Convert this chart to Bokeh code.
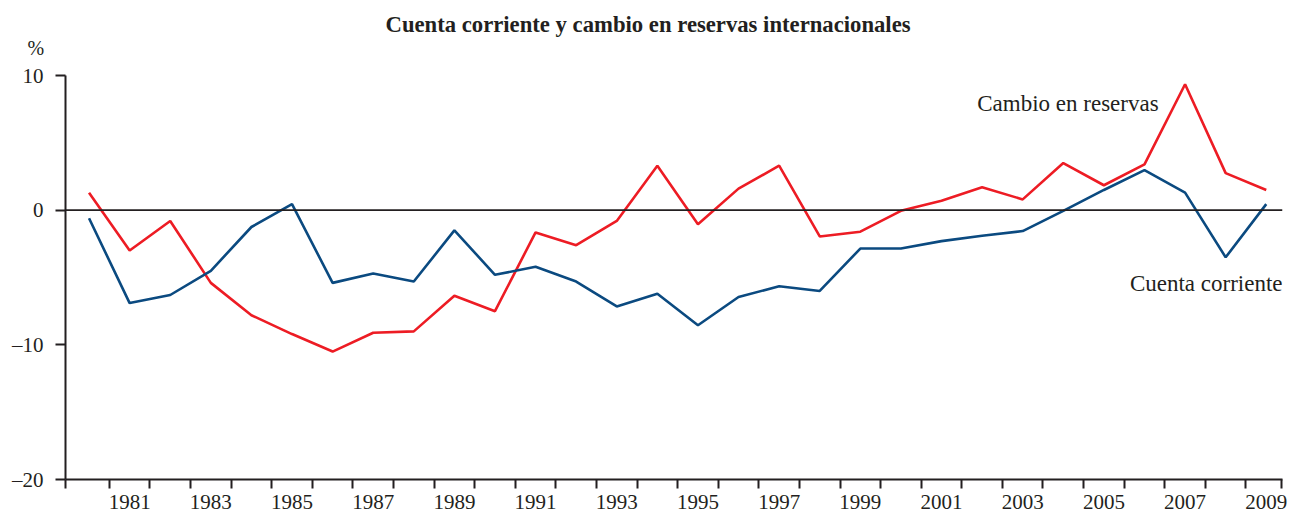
from bokeh.plotting import figure
from bokeh.models import FixedTicker, Span, Label, Range1d, Title
from bokeh.embed import file_html
from bokeh.resources import INLINE

# ---- data ----
years = list(range(1980, 2010))
cuenta_corriente = [-0.6, -6.9, -6.3, -4.5, -1.25, 0.45, -5.4, -4.7, -5.3, -1.5,
                    -4.8, -4.2, -5.3, -7.15, -6.2, -8.55, -6.45, -5.65, -6.0, -2.85,
                    -2.85, -2.3, -1.9, -1.55, -0.05, 1.5, 2.97, 1.3, -3.5, 0.45]
cambio_reservas = [1.3, -3.0, -0.8, -5.4, -7.8, -9.2, -10.5, -9.1, -9.0, -6.35,
                   -7.5, -1.65, -2.6, -0.8, 3.3, -1.05, 1.6, 3.3, -1.95, -1.6,
                   -0.05, 0.7, 1.7, 0.8, 3.5, 1.85, 3.4, 9.35, 2.75, 1.5]
y_ticks = [-20, -10, 0, 10]
y_tick_labels = {-20: "\u201320", -10: "\u201310", 0: "0", 10: "10"}
x_label_years = list(range(1981, 2010, 2))
title_text = "Cuenta corriente y cambio en reservas internacionales"
unit_text = "%"
label_cuenta = "Cuenta corriente"
label_reservas = "Cambio en reservas"

# ---- layout ----
x_start, x_end = 1979.42, 2009.40
y_min, y_max = -20, 10
FONT = "Liberation Serif"
INK = "#231f20"
RED = "#ed1c24"
BLUE = "#0b4a80"

p = figure(width=1289, height=517, output_backend="svg", toolbar_location=None,
           title=None,
           x_range=Range1d(x_start, x_end), y_range=Range1d(y_min, y_max),
           min_border_left=65, min_border_right=7, min_border_top=75, min_border_bottom=38)
p.outline_line_color = None
p.xgrid.visible = False
p.ygrid.visible = False
p.background_fill_color = "white"

# zero line
p.add_layout(Span(location=0, dimension="width", line_color=INK, line_width=1.6))

p.line(years, cambio_reservas, line_color=RED, line_width=2.6)
p.line(years, cuenta_corriente, line_color=BLUE, line_width=2.6)

# x axis: labels at odd years, ticks at year boundaries
boundaries = [x_start + 0.01] + [y + 0.5 for y in range(1980, 2009)] + [x_end - 0.02]
xa = p.xaxis[0]
xa.ticker = FixedTicker(ticks=x_label_years, minor_ticks=boundaries)
xa.axis_line_color = INK
xa.axis_line_width = 2
xa.major_tick_line_color = None
xa.major_tick_out = 9
xa.major_tick_in = 0
xa.minor_tick_line_color = INK
xa.minor_tick_line_width = 2
xa.minor_tick_out = 9
xa.minor_tick_in = 0
xa.major_label_standoff = 6
xa.major_label_text_font = FONT
xa.major_label_text_font_size = "21px"
xa.major_label_text_color = INK

ya = p.yaxis[0]
ya.ticker = FixedTicker(ticks=y_ticks)
ya.major_label_overrides = y_tick_labels
ya.axis_line_color = INK
ya.axis_line_width = 2
ya.major_tick_line_color = INK
ya.major_tick_line_width = 2
ya.major_tick_out = 10
ya.major_tick_in = 0
ya.minor_tick_line_color = None
ya.major_label_standoff = 12
ya.major_label_text_font = FONT
ya.major_label_text_font_size = "21px"
ya.major_label_text_color = INK

# unit (closest to frame), then main title
p.add_layout(Title(text=unit_text, align="left", offset=-38, standoff=33,
                   text_font=FONT, text_font_size="20px", text_font_style="normal",
                   text_color=INK), "above")
p.add_layout(Title(text=title_text, align="left", offset=320, standoff=-37,
                   text_font=FONT, text_font_size="22.7px", text_font_style="bold",
                   text_color=INK), "above")

# series labels
p.add_layout(Label(x=2001.88, y=7.95, text=label_reservas,
                   text_font=FONT, text_font_size="23px", text_color=INK,
                   text_align="left", text_baseline="middle"))
p.add_layout(Label(x=x_end, y=-5.42, text=label_cuenta,
                   text_font=FONT, text_font_size="23px", text_color=INK,
                   text_align="right", text_baseline="middle"))

open("out.html", "w").write(file_html(p, INLINE))
